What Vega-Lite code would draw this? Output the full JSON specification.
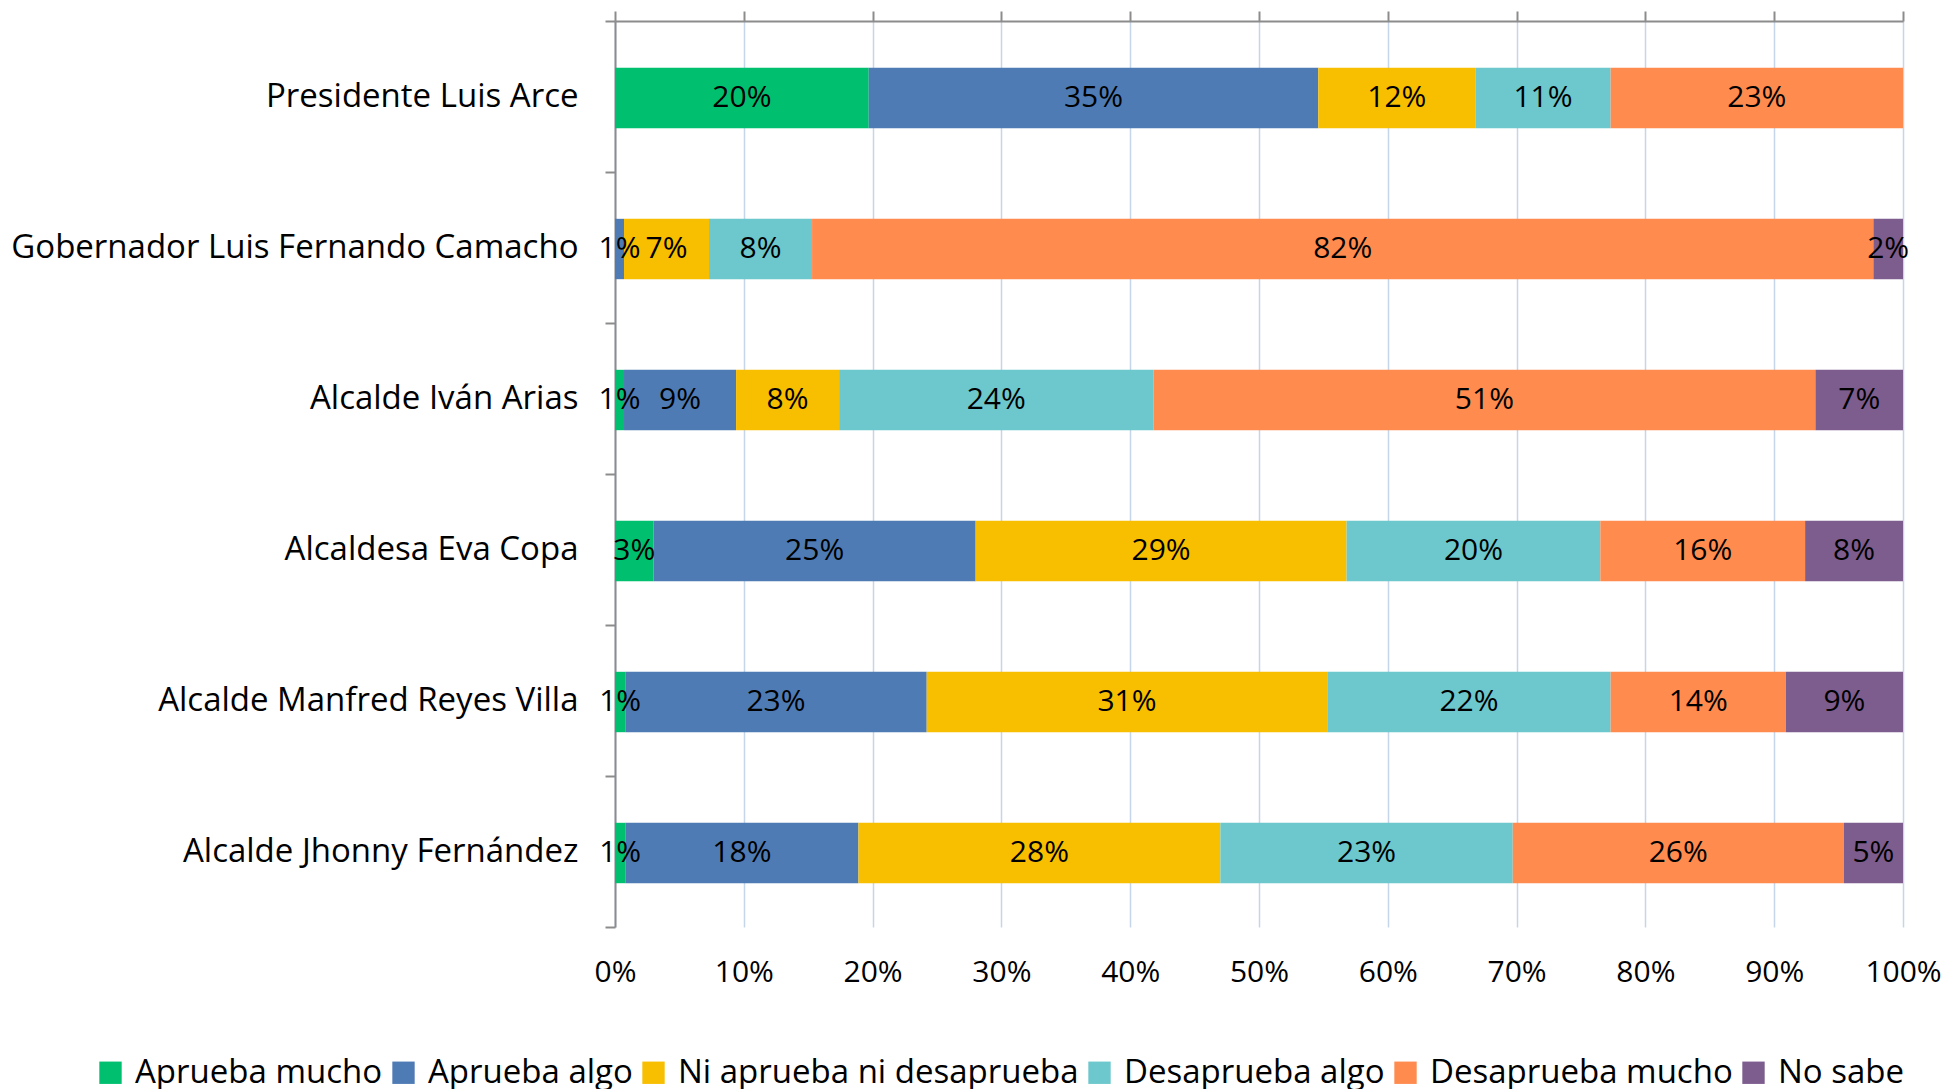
{
  "$schema": "https://vega.github.io/schema/vega-lite/v6.json",
  "width": 1288,
  "height": 906,
  "autosize": {"type": "none"},
  "padding": {"left": 615, "top": 21, "right": 46, "bottom": 162},
  "background": "white",
  "data": {
    "values": [
      {"p": "Presidente Luis Arce", "c": "Aprueba mucho", "o": 1, "v": 0.197},
      {"p": "Presidente Luis Arce", "c": "Aprueba algo", "o": 2, "v": 0.349},
      {"p": "Presidente Luis Arce", "c": "Ni aprueba ni desaprueba", "o": 3, "v": 0.122},
      {"p": "Presidente Luis Arce", "c": "Desaprueba algo", "o": 4, "v": 0.105},
      {"p": "Presidente Luis Arce", "c": "Desaprueba mucho", "o": 5, "v": 0.227},
      {"p": "Gobernador Luis Fernando Camacho", "c": "Aprueba algo", "o": 2, "v": 0.007},
      {"p": "Gobernador Luis Fernando Camacho", "c": "Ni aprueba ni desaprueba", "o": 3, "v": 0.066},
      {"p": "Gobernador Luis Fernando Camacho", "c": "Desaprueba algo", "o": 4, "v": 0.080},
      {"p": "Gobernador Luis Fernando Camacho", "c": "Desaprueba mucho", "o": 5, "v": 0.824},
      {"p": "Gobernador Luis Fernando Camacho", "c": "No sabe", "o": 6, "v": 0.023},
      {"p": "Alcalde Iván Arias", "c": "Aprueba mucho", "o": 1, "v": 0.007},
      {"p": "Alcalde Iván Arias", "c": "Aprueba algo", "o": 2, "v": 0.087},
      {"p": "Alcalde Iván Arias", "c": "Ni aprueba ni desaprueba", "o": 3, "v": 0.080},
      {"p": "Alcalde Iván Arias", "c": "Desaprueba algo", "o": 4, "v": 0.244},
      {"p": "Alcalde Iván Arias", "c": "Desaprueba mucho", "o": 5, "v": 0.514},
      {"p": "Alcalde Iván Arias", "c": "No sabe", "o": 6, "v": 0.068},
      {"p": "Alcaldesa Eva Copa", "c": "Aprueba mucho", "o": 1, "v": 0.030},
      {"p": "Alcaldesa Eva Copa", "c": "Aprueba algo", "o": 2, "v": 0.250},
      {"p": "Alcaldesa Eva Copa", "c": "Ni aprueba ni desaprueba", "o": 3, "v": 0.288},
      {"p": "Alcaldesa Eva Copa", "c": "Desaprueba algo", "o": 4, "v": 0.197},
      {"p": "Alcaldesa Eva Copa", "c": "Desaprueba mucho", "o": 5, "v": 0.159},
      {"p": "Alcaldesa Eva Copa", "c": "No sabe", "o": 6, "v": 0.076},
      {"p": "Alcalde Manfred Reyes Villa", "c": "Aprueba mucho", "o": 1, "v": 0.008},
      {"p": "Alcalde Manfred Reyes Villa", "c": "Aprueba algo", "o": 2, "v": 0.234},
      {"p": "Alcalde Manfred Reyes Villa", "c": "Ni aprueba ni desaprueba", "o": 3, "v": 0.311},
      {"p": "Alcalde Manfred Reyes Villa", "c": "Desaprueba algo", "o": 4, "v": 0.220},
      {"p": "Alcalde Manfred Reyes Villa", "c": "Desaprueba mucho", "o": 5, "v": 0.136},
      {"p": "Alcalde Manfred Reyes Villa", "c": "No sabe", "o": 6, "v": 0.091},
      {"p": "Alcalde Jhonny Fernández", "c": "Aprueba mucho", "o": 1, "v": 0.008},
      {"p": "Alcalde Jhonny Fernández", "c": "Aprueba algo", "o": 2, "v": 0.181},
      {"p": "Alcalde Jhonny Fernández", "c": "Ni aprueba ni desaprueba", "o": 3, "v": 0.281},
      {"p": "Alcalde Jhonny Fernández", "c": "Desaprueba algo", "o": 4, "v": 0.227},
      {"p": "Alcalde Jhonny Fernández", "c": "Desaprueba mucho", "o": 5, "v": 0.257},
      {"p": "Alcalde Jhonny Fernández", "c": "No sabe", "o": 6, "v": 0.046}
    ]
  },
  "encoding": {
    "y": {
      "field": "p",
      "type": "nominal",
      "sort": null,
      "scale": {"paddingInner": 0, "paddingOuter": 0},
      "axis": {
        "title": null,
        "tickBand": "extent",
        "tickSize": 10,
        "tickColor": "#8c8c8c",
        "tickWidth": 2,
        "domainColor": "#8c8c8c",
        "domainWidth": 2,
        "labelPadding": 27,
        "labelFontSize": 33,
        "labelFont": "Open Sans",
        "labelColor": "#000000",
        "labelLimit": 700,
        "grid": false
      }
    }
  },
  "layer": [
    {
      "mark": {"type": "bar", "height": {"band": 0.4}, "yOffset": 1.5},
      "encoding": {
        "x": {
          "field": "v",
          "type": "quantitative",
          "stack": "zero",
          "scale": {"domain": [0, 1], "nice": false},
          "axis": {
            "orient": "bottom",
            "title": null,
            "format": ".0%",
            "values": [0, 0.1, 0.2, 0.3, 0.4, 0.5, 0.6, 0.7, 0.8, 0.9, 1],
            "domain": false,
            "ticks": false,
            "tickSize": 0,
            "labelPadding": 30,
            "labelFontSize": 30,
            "labelFont": "Open Sans",
            "labelColor": "#000000",
            "labelFlush": false,
            "labelOverlap": false,
            "grid": true,
            "gridColor": "#c5d5ea",
            "gridWidth": 1.5
          }
        },
        "color": {
          "field": "c",
          "type": "nominal",
          "scale": {
            "domain": ["Aprueba mucho", "Aprueba algo", "Ni aprueba ni desaprueba", "Desaprueba algo", "Desaprueba mucho", "No sabe"],
            "range": ["#00bf6f", "#4f7bb5", "#f8be00", "#6cc8cc", "#ff8b4f", "#7d5c8e"]
          },
          "legend": {
            "orient": "none",
            "direction": "horizontal",
            "legendX": -521,
            "legendY": 1035,
            "title": null,
            "symbolType": "square",
            "symbolSize": 500,
            "symbolStrokeWidth": 0,
            "symbolOpacity": 1,
            "labelFontSize": 33,
            "labelFont": "Open Sans",
            "labelColor": "#000000",
            "labelOffset": 8,
            "columnPadding": 4,
            "labelLimit": 600
          }
        },
        "order": {"field": "o", "type": "quantitative"}
      }
    },
    {
      "mark": {"type": "text", "fontSize": 30, "font": "Open Sans", "color": "#000000", "baseline": "middle", "align": "center", "yOffset": 1.5},
      "encoding": {
        "x": {
          "field": "v",
          "type": "quantitative",
          "stack": "zero",
          "bandPosition": 0.5,
          "scale": {"domain": [0, 1], "nice": false},
          "axis": {
            "orient": "top",
            "title": null,
            "labels": false,
            "grid": false,
            "values": [0, 0.1, 0.2, 0.3, 0.4, 0.5, 0.6, 0.7, 0.8, 0.9, 1],
            "domainColor": "#8c8c8c",
            "domainWidth": 2,
            "tickColor": "#8c8c8c",
            "tickWidth": 2,
            "tickSize": 10
          }
        },
        "detail": {"field": "c"},
        "order": {"field": "o", "type": "quantitative"},
        "text": {"field": "v", "type": "quantitative", "format": ".0%"}
      }
    }
  ],
  "resolve": {"axis": {"x": "independent"}},
  "config": {"view": {"stroke": null}}
}
